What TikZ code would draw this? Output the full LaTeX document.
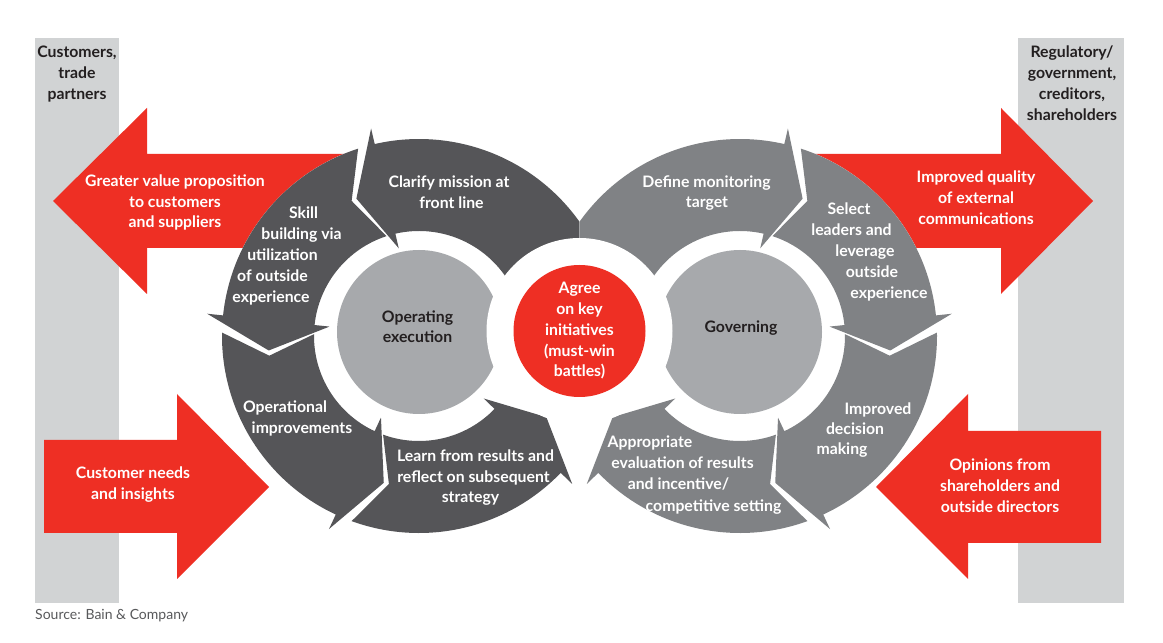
\documentclass[tikz,border=0pt]{standalone}
\usepackage{fontspec}
\setmainfont{Lato}
\usetikzlibrary{calc}
\definecolor{ringdark}{RGB}{85,85,88}
\definecolor{ringlight}{RGB}{128,130,133}
\definecolor{hubgray}{RGB}{167,169,172}
\definecolor{bainred}{RGB}{238,47,36}
\definecolor{bargray}{RGB}{209,211,212}
\definecolor{txtdark}{RGB}{35,31,32}
\definecolor{srcgray}{RGB}{88,89,91}
% ring segment: #1 centre, #2 mirror offset, #3 direction, #4 previous head base, #5 head base, #6 colour
\newcommand\rseg[6]{%
  \pgfmathsetmacro\sgT{#2+(#3)*((#4)+5)}%
  \pgfmathsetmacro\sgN{#2+(#3)*((#4)+13.5)}%
  \pgfmathsetmacro\sgB{#2+(#3)*(#5)}%
  \pgfmathsetmacro\sgH{#2+(#3)*((#5)+11.5)}%
  \fill[#6] ($(#1)+(\sgT:197)$) arc[start angle=\sgT, end angle=\sgB, radius=197]
    -- ($(#1)+(\sgB:213)$) -- ($(#1)+(\sgH:151)$) -- ($(#1)+(\sgB:90)$)
    -- ($(#1)+(\sgB:105)$) arc[start angle=\sgB, end angle=\sgT, radius=105]
    -- ($(#1)+(\sgN:151)$) -- cycle;}
\newcommand\txl[4]{\node[#1] (#2) at (#3) {#4};}
\begin{document}
\begin{tikzpicture}[x=1pt,y=1pt,
  wt/.style={text=white, font=\bfseries\fontsize{15.8}{20}\selectfont, inner sep=0pt, anchor=base},
  dk/.style={wt, text=txtdark},
  redarrow/.style={fill=bainred},
  sidebar/.style={fill=bargray},
  hub/.style={circle, fill=hubgray, inner sep=0pt, minimum size=164pt}]
\useasboundingbox (0,0) rectangle (1163,643);
\fill[white] (0,0) rectangle (1163,643);
% side bars
\fill[sidebar] (35,40) rectangle (119,605);
\fill[sidebar] (1018,40) rectangle (1124,605);
% red arrows
\fill[redarrow] (53,442) -- (147,535) -- (147,489) -- (420,489) -- (420,395) -- (147,395) -- (147,349) -- cycle;
\fill[redarrow] (1093,442) -- (1001,535) -- (1001,489) -- (740,489) -- (740,395) -- (1001,395) -- (1001,349) -- cycle;
\fill[redarrow] (269,156) -- (177,249) -- (177,203) -- (44,203) -- (44,110) -- (177,110) -- (177,64) -- cycle;
\fill[redarrow] (876,156) -- (968,249) -- (968,212) -- (1101,212) -- (1101,100) -- (968,100) -- (968,64) -- cycle;
% centres
\coordinate (CL) at (419,307);
\coordinate (CR) at (740,307);
\coordinate (HL) at (419,311);
\coordinate (HR) at (740,311);
\coordinate (MID) at (579.5,312);
% left ring
\begin{scope}
  \clip (0,0) rectangle (579.5,643);
  \fill[white] (CL) circle[radius=197];
  \rseg{CL}{0}{1}{245}{316}{ringdark}
  \rseg{CL}{0}{1}{174}{245}{ringdark}
  \rseg{CL}{0}{1}{103}{174}{ringdark}
  \rseg{CL}{0}{1}{-5}{103}{ringdark}
\end{scope}
% right ring
\begin{scope}
  \clip (579.5,0) rectangle (1163,643);
  \fill[white] (CR) circle[radius=197];
  \rseg{CR}{180}{-1}{245}{316}{ringlight}
  \rseg{CR}{180}{-1}{174}{245}{ringlight}
  \rseg{CR}{180}{-1}{103}{174}{ringlight}
  \rseg{CR}{180}{-1}{-5}{103}{ringlight}
\end{scope}
\node[hub] (hubL) at (HL) {};
\node[hub] (hubR) at (HR) {};
\fill[white] (MID) circle[radius=93];
\node[circle, fill=bainred, inner sep=0pt, minimum size=132pt] (agree) at (MID) {};
% side bar labels
\txl{dk}{b1}{77,585}{Customers,}
\txl{dk}{b2}{77,564}{trade}
\txl{dk}{b3}{77,543}{partners}
\txl{dk}{c1}{1072,585}{Regulatory/}
\txl{dk}{c2}{1072,564}{government,}
\txl{dk}{c3}{1072,543}{creditors,}
\txl{dk}{c4}{1072,522}{shareholders}
% red arrow labels
\txl{wt}{r1}{175,456}{Greater value proposition}
\txl{wt}{r2}{175,435}{to customers}
\txl{wt}{r3}{175,415}{and suppliers}
\txl{wt}{r4}{133,164}{Customer needs}
\txl{wt}{r5}{133,143}{and insights}
\txl{wt}{r6}{976,460}{Improved quality}
\txl{wt}{r7}{976,439}{of external}
\txl{wt}{r8}{976,418}{communications}
\txl{wt}{r9}{1000,172}{Opinions from}
\txl{wt}{r10}{1000,151}{shareholders and}
\txl{wt}{r11}{1000,130}{outside directors}
% left ring labels
\txl{wt}{l1}{449,455}{Clarify mission at}
\txl{wt}{l2}{451.5,434}{front line}
\txl{wt}{l3}{303.5,424}{Skill}
\txl{wt}{l4}{301.5,403}{building via}
\txl{wt}{l5}{282.5,382}{utilization}
\txl{wt}{l6}{272.5,361}{of outside}
\txl{wt}{l7}{271,340}{experience}
\txl{wt}{l8}{285,230}{Operational}
\txl{wt}{l9}{302,209}{improvements}
\txl{wt}{l10}{475.5,181}{Learn from results and}
\txl{wt}{l11}{473.5,160}{reflect on subsequent}
\txl{wt}{l12}{470.5,140}{strategy}
\txl{dk}{h1}{417.5,320}{Operating}
\txl{dk}{h2}{417.5,300}{execution}
% centre labels
\txl{wt}{m1}{579.5,349}{Agree}
\txl{wt}{m2}{579.5,328}{on key}
\txl{wt}{m3}{579.5,307}{initiatives}
\txl{wt}{m4}{579.5,286.5}{(must-win}
\txl{wt}{m5}{579.5,266}{battles)}
% right ring labels
\txl{wt}{g1}{706.5,455}{Define monitoring}
\txl{wt}{g2}{707,435}{target}
\txl{wt}{g3}{849,428}{Select}
\txl{wt}{g4}{851.5,407}{leaders and}
\txl{wt}{g5}{865,386}{leverage}
\txl{wt}{g6}{872,365.5}{outside}
\txl{wt}{g7}{889,344.5}{experience}
\txl{dk}{h3}{741,310}{Governing}
\txl{wt}{g8}{878,228}{Improved}
\txl{wt}{g9}{855,208}{decision}
\txl{wt}{g10}{842,188}{making}
\txl{wt}{g11}{650,195}{Appropriate}
\txl{wt}{g12}{682.5,174}{evaluation of results}
\txl{wt}{g13}{678.5,153}{and incentive/}
\txl{wt}{g14}{713.5,131}{competitive setting}
% source
\node[text=srcgray, font=\fontsize{14}{16}\selectfont, inner sep=0pt, anchor=base west] (src) at (35,23) {Source: Bain \& Company};
\end{tikzpicture}
\end{document}
